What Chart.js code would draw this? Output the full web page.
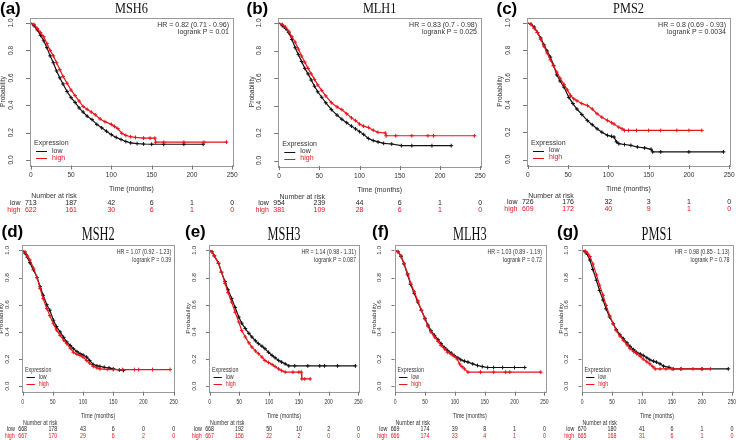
<!DOCTYPE html>
<html><head><meta charset="utf-8">
<script src="https://cdn.jsdelivr.net/npm/chart.js@4/dist/chart.umd.min.js"></script>
<style>
html,body{margin:0;padding:0;background:#fff;}
body{width:738px;height:440px;position:relative;overflow:hidden;}
canvas{position:absolute;display:block;}
</style></head>
<body>
<canvas id="ca" width="245" height="220" style="left:0;top:0"></canvas>
<canvas id="cb" width="245" height="220" style="left:245px;top:0"></canvas>
<canvas id="cc" width="248" height="220" style="left:490px;top:0"></canvas>
<canvas id="cd" width="185" height="220" style="left:0;top:220px"></canvas>
<canvas id="ce" width="180" height="220" style="left:185px;top:220px"></canvas>
<canvas id="cf" width="185" height="220" style="left:365px;top:220px"></canvas>
<canvas id="cg" width="188" height="220" style="left:550px;top:220px"></canvas>
<script>
// ---------- tick labels / shared ----------
const xTickValues = [0, 50, 100, 150, 200, 250];
const yTickValues = [0, 0.2, 0.4, 0.6, 0.8, 1.0];
const yTickLabels = ['0.0', '0.2', '0.4', '0.6', '0.8', '1.0'];
const riskTimes = [0, 50, 100, 150, 200, 250];
const groupNames = ['low', 'high'];

// ---------- MSH6 ----------
const msh6LowTime  = [0,4,8,12,16,20,24,28,32,36,40,45,50,55,60,65,70,76,82,88,94,100,106,112,118,124,132,140,150,165,190,214];
const msh6LowSurv  = [1.0,0.98,0.95,0.91,0.87,0.82,0.76,0.71,0.65,0.60,0.555,0.50,0.455,0.42,0.38,0.35,0.32,0.295,0.26,0.235,0.21,0.185,0.165,0.15,0.135,0.125,0.12,0.117,0.115,0.115,0.115,0.115];
const msh6HighTime = [0,4,8,12,16,20,24,28,32,36,40,45,50,55,60,65,70,75,80,86,92,100,104,108,113,118,124,130,140,148,154,155,165,190,215,243];
const msh6HighSurv = [1.0,0.99,0.96,0.93,0.90,0.85,0.80,0.76,0.71,0.66,0.61,0.56,0.51,0.47,0.43,0.39,0.37,0.35,0.33,0.30,0.28,0.26,0.245,0.23,0.195,0.18,0.17,0.165,0.16,0.16,0.16,0.13,0.13,0.13,0.13,0.13];
const msh6RiskLow  = [713,187,42,6,1,0];
const msh6RiskHigh = [622,161,30,6,1,0];

// ---------- MLH1 ----------
const mlh1LowTime  = [0,4,8,12,16,20,24,28,32,36,40,44,48,53,58,65,72,78,84,90,95,100,105,111,117,123,130,140,152,165,190,214];
const mlh1LowSurv  = [1.0,0.98,0.96,0.93,0.88,0.82,0.77,0.72,0.67,0.63,0.585,0.54,0.50,0.46,0.42,0.37,0.33,0.30,0.275,0.25,0.23,0.21,0.19,0.16,0.145,0.135,0.125,0.12,0.108,0.108,0.108,0.108];
const mlh1HighTime = [0,4,8,12,16,20,24,28,32,36,40,44,48,53,58,65,72,78,84,90,95,100,105,111,117,123,132,133,145,165,185,192,243];
const mlh1HighSurv = [1.0,0.99,0.97,0.94,0.90,0.86,0.81,0.76,0.715,0.67,0.63,0.59,0.55,0.51,0.47,0.42,0.39,0.37,0.34,0.31,0.29,0.265,0.25,0.24,0.22,0.205,0.2,0.18,0.18,0.18,0.18,0.18,0.18];
const mlh1RiskLow  = [954,239,44,6,1,0];
const mlh1RiskHigh = [381,109,28,6,1,0];

// ---------- PMS2 ----------
const pms2LowTime  = [0,4,8,12,16,20,24,28,32,36,40,45,51,56,61,67,74,80,86,92,99,104,107,110,113,120,128,136,145,153,155,165,200,243];
const pms2LowSurv  = [1.0,0.99,0.97,0.93,0.89,0.84,0.795,0.75,0.69,0.62,0.575,0.53,0.455,0.41,0.37,0.33,0.285,0.255,0.225,0.20,0.177,0.17,0.165,0.13,0.116,0.11,0.104,0.092,0.085,0.075,0.056,0.056,0.056,0.056];
const pms2HighTime = [0,4,8,12,16,20,24,28,32,36,40,45,49,53,57,61,67,74,80,86,92,99,104,107,113,117,120,125,135,150,165,185,200,216];
const pms2HighSurv = [1.0,0.99,0.96,0.93,0.88,0.83,0.78,0.73,0.685,0.64,0.595,0.55,0.51,0.47,0.445,0.43,0.41,0.395,0.37,0.335,0.31,0.286,0.27,0.26,0.237,0.225,0.213,0.213,0.213,0.213,0.213,0.213,0.213,0.213];
const pms2RiskLow  = [726,176,32,3,1,0];
const pms2RiskHigh = [609,172,40,9,1,0];

// ---------- MSH2 ----------
const msh2LowTime  = [0,4,8,12,18,24,29,34,40,45,51,56,62,68,73,79,84,90,95,100,106,111,117,123,128,135,143,150,160,167];
const msh2LowSurv  = [1.0,0.98,0.95,0.91,0.857,0.80,0.733,0.67,0.60,0.56,0.486,0.44,0.40,0.36,0.326,0.30,0.276,0.255,0.24,0.23,0.215,0.19,0.16,0.15,0.146,0.14,0.135,0.128,0.12,0.116];
const msh2HighTime = [0,4,8,12,18,24,29,34,40,45,51,56,62,68,73,79,84,90,95,100,106,111,117,123,128,140,150,165,185,192,215,244];
const msh2HighSurv = [1.0,0.99,0.96,0.93,0.87,0.80,0.72,0.645,0.573,0.52,0.46,0.415,0.375,0.34,0.314,0.28,0.25,0.235,0.227,0.215,0.19,0.17,0.146,0.135,0.128,0.125,0.123,0.123,0.123,0.123,0.123,0.123];
const msh2RiskLow  = [668,178,43,6,0,0];
const msh2RiskHigh = [667,170,29,6,2,0];

// ---------- MSH3 ----------
const msh3LowTime  = [0,4,8,15,20,26,31,37,43,49,54,60,66,71,77,82,88,93,99,105,110,116,121,127,133,143,165,185,193,215,245];
const msh3LowSurv  = [1.0,0.99,0.96,0.906,0.84,0.77,0.71,0.647,0.58,0.51,0.465,0.425,0.39,0.363,0.335,0.314,0.295,0.277,0.25,0.227,0.21,0.19,0.178,0.165,0.15,0.15,0.15,0.15,0.15,0.15,0.15];
const msh3HighTime = [0,4,8,15,20,26,31,37,43,49,54,60,66,71,77,82,88,93,99,105,110,116,121,127,140,150,154,155,160,169];
const msh3HighSurv = [1.0,0.99,0.96,0.906,0.84,0.758,0.69,0.62,0.545,0.474,0.41,0.363,0.32,0.289,0.26,0.24,0.215,0.19,0.175,0.16,0.145,0.128,0.115,0.104,0.104,0.104,0.104,0.054,0.054,0.054];
const msh3RiskLow  = [668,192,50,10,2,0];
const msh3RiskHigh = [667,156,22,2,0,0];

// ---------- MLH3 ----------
const mlh3LowTime  = [0,5,10,15,21,26,32,38,44,50,55,60,66,72,77,83,88,94,99,105,110,116,122,130,138,146,155,165,180,200,217];
const mlh3LowSurv  = [1.0,0.99,0.955,0.90,0.82,0.75,0.684,0.62,0.56,0.50,0.45,0.41,0.375,0.343,0.314,0.285,0.264,0.245,0.227,0.21,0.195,0.185,0.178,0.165,0.153,0.145,0.138,0.138,0.138,0.138,0.138];
const mlh3HighTime = [0,5,10,15,21,26,32,38,44,50,55,60,66,72,77,83,88,94,99,104,108,112,116,122,143,165,185,192,244];
const mlh3HighSurv = [1.0,0.99,0.96,0.905,0.83,0.76,0.696,0.63,0.56,0.495,0.442,0.40,0.363,0.33,0.30,0.275,0.25,0.235,0.22,0.20,0.165,0.145,0.128,0.104,0.104,0.104,0.104,0.104,0.104];
const mlh3RiskLow  = [669,174,39,8,1,0];
const mlh3RiskHigh = [666,174,33,4,1,0];

// ---------- PMS1 ----------
const pms1LowTime  = [0,5,9,13,18,24,29,35,40,46,52,57,63,69,75,80,86,91,97,102,108,113,119,124,130,136,145,152,165,200,244];
const pms1LowSurv  = [1.0,0.99,0.97,0.93,0.86,0.78,0.705,0.635,0.57,0.51,0.46,0.417,0.38,0.35,0.32,0.294,0.27,0.25,0.238,0.227,0.21,0.195,0.185,0.178,0.165,0.148,0.14,0.128,0.128,0.128,0.128];
const pms1HighTime = [0,5,9,13,18,24,29,35,40,46,52,57,63,69,75,80,86,91,97,102,108,113,118,122,130,140,150,165,185,200,214];
const pms1HighSurv = [1.0,0.995,0.98,0.955,0.90,0.82,0.745,0.67,0.595,0.52,0.46,0.41,0.37,0.338,0.305,0.277,0.255,0.24,0.22,0.20,0.18,0.165,0.145,0.128,0.128,0.128,0.128,0.128,0.128,0.128,0.128];
const pms1RiskLow  = [670,180,41,6,1,0];
const pms1RiskHigh = [665,168,31,6,1,0];

// ---------- panel texts ----------
const panelLetters = ['(a)','(b)','(c)','(d)','(e)','(f)','(g)'];
const geneNames = ['MSH6','MLH1','PMS2','MSH2','MSH3','MLH3','PMS1'];
const hrTexts = ['HR = 0.82 (0.71 - 0.96)','HR = 0.83 (0.7 - 0.98)','HR = 0.8 (0.69 - 0.93)',
  'HR = 1.07 (0.92 - 1.23)','HR = 1.14 (0.98 - 1.31)','HR = 1.03 (0.89 - 1.19)','HR = 0.98 (0.85 - 1.13)'];
const pTexts = ['logrank P = 0.01','logrank P = 0.025','logrank P = 0.0034',
  'logrank P = 0.39','logrank P = 0.087','logrank P = 0.72','logrank P = 0.78'];

const seriesData = [
  [msh6LowTime, msh6LowSurv, msh6HighTime, msh6HighSurv, msh6RiskLow, msh6RiskHigh],
  [mlh1LowTime, mlh1LowSurv, mlh1HighTime, mlh1HighSurv, mlh1RiskLow, mlh1RiskHigh],
  [pms2LowTime, pms2LowSurv, pms2HighTime, pms2HighSurv, pms2RiskLow, pms2RiskHigh],
  [msh2LowTime, msh2LowSurv, msh2HighTime, msh2HighSurv, msh2RiskLow, msh2RiskHigh],
  [msh3LowTime, msh3LowSurv, msh3HighTime, msh3HighSurv, msh3RiskLow, msh3RiskHigh],
  [mlh3LowTime, mlh3LowSurv, mlh3HighTime, mlh3HighSurv, mlh3RiskLow, mlh3RiskHigh],
  [pms1LowTime, pms1LowSurv, pms1HighTime, pms1HighSurv, pms1RiskLow, pms1RiskHigh]
];

// ---------- layout (styles only) ----------
const layouts = [
  {id:'ca', pad:{left:30,right:12,top:17.5,bottom:54.5}, sx:1, letterX:0, letterY:14, titleSize:14, titleSx:0.88, titleY:13},
  {id:'cb', pad:{left:33.3,right:9,top:17.5,bottom:54}, sx:1, letterX:1.5, letterY:14, titleSize:14, titleSx:0.88, titleY:13},
  {id:'cc', pad:{left:37,right:8,top:17.5,bottom:55}, sx:1, letterX:6.5, letterY:14, titleSize:14, titleSx:0.88, titleY:13},
  {id:'cd', pad:{left:22,right:10.7,top:25,bottom:48.3}, sx:0.76, letterX:1.5, letterY:17, titleSize:19, titleSx:0.65, titleY:20},
  {id:'ce', pad:{left:24,right:6,top:25,bottom:48.3}, sx:0.76, letterX:0, letterY:17, titleSize:19, titleSx:0.65, titleY:20},
  {id:'cf', pad:{left:29.5,right:5,top:25,bottom:48.3}, sx:0.76, letterX:7, letterY:17, titleSize:19, titleSx:0.65, titleY:20},
  {id:'cg', pad:{left:31.5,right:5.5,top:25,bottom:48.3}, sx:0.76, letterX:7, letterY:17, titleSize:19, titleSx:0.65, titleY:20}
];
const LOW_COLOR = '#111111';
const HIGH_COLOR = '#e8141c';
const SANS = '"Liberation Sans", Arial, sans-serif';

function toXY(t, s) { return t.map((x, i) => ({ x: x, y: s[i] })); }

function makePanelPlugin(i) {
  const L = layouts[i];
  const D = seriesData[i];
  return {
    id: 'panel' + i,
    afterDraw(chart) {
      const ctx = chart.ctx, a = chart.chartArea;
      const xs = chart.scales.x, ys = chart.scales.y;
      const sx = L.sx;
      function txt(str, x, y, font, color, align, rot, scx) {
        ctx.save();
        ctx.translate(x, y);
        ctx.scale(scx === undefined ? sx : scx, 1);
        if (rot) ctx.rotate(rot);
        ctx.font = font; ctx.fillStyle = color;
        ctx.textAlign = align || 'center'; ctx.textBaseline = 'middle';
        ctx.fillText(str, 0, 0);
        ctx.restore();
      }
      // box
      ctx.save();
      ctx.strokeStyle = '#9a9a9a'; ctx.lineWidth = 1;
      ctx.strokeRect(Math.round(a.left) + 0.5, Math.round(a.top) + 0.5, Math.round(a.width), Math.round(a.height));
      // ticks
      ctx.strokeStyle = '#777';
      xTickValues.forEach(v => {
        const px = Math.round(xs.getPixelForValue(v)) + 0.5;
        ctx.beginPath(); ctx.moveTo(px, a.bottom); ctx.lineTo(px, a.bottom + 4); ctx.stroke();
      });
      yTickValues.forEach(v => {
        const py = Math.round(ys.getPixelForValue(v)) + 0.5;
        ctx.beginPath(); ctx.moveTo(a.left, py); ctx.lineTo(a.left - 4 * sx, py); ctx.stroke();
      });
      ctx.restore();
      const small = '6.6px ' + SANS, med = '7px ' + SANS;
      xTickValues.forEach(v => txt(String(v), xs.getPixelForValue(v), a.bottom + 10, small, '#333'));
      yTickValues.forEach((v, k) => txt(yTickLabels[k], a.left - 19 * sx, ys.getPixelForValue(v), small, '#333', 'center', -Math.PI / 2));
      txt('Probability', a.left - 26.5 * sx, (a.top + a.bottom) / 2, small, '#333', 'center', -Math.PI / 2);
      txt('Time (months)', (a.left + a.right) / 2, a.bottom + 24, med, '#333');
      // HR
      txt(hrTexts[i], a.right - 4 * sx, a.top + 7.5, med, '#333', 'right');
      txt(pTexts[i], a.right - 4 * sx, a.top + 14.8, med, '#333', 'right');
      // legend
      const lx = a.left + 4 * sx;
      txt('Expression', lx, a.bottom - 22, med, '#333', 'left');
      ctx.save(); ctx.lineWidth = 1;
      [LOW_COLOR, HIGH_COLOR].forEach((c, k) => {
        const yy = Math.round(a.bottom - 14.5 + k * 7) + 0.5;
        ctx.strokeStyle = c;
        ctx.beginPath(); ctx.moveTo(lx + 2 * sx, yy); ctx.lineTo(lx + 13 * sx, yy); ctx.stroke();
      });
      ctx.restore();
      txt(groupNames[0], lx + 18 * sx, a.bottom - 14.5, med, '#333', 'left');
      txt(groupNames[1], lx + 18 * sx, a.bottom - 7.5, med, HIGH_COLOR, 'left');
      // number at risk
      txt('Number at risk', a.left + 24 * sx, a.bottom + 31, med, '#333');
      txt(groupNames[0], a.left - 9.5 * sx, a.bottom + 37.3, med, '#222', 'right');
      txt(groupNames[1], a.left - 9.5 * sx, a.bottom + 44.2, med, HIGH_COLOR, 'right');
      riskTimes.forEach((t, k) => {
        txt(String(D[4][k]), xs.getPixelForValue(t), a.bottom + 37.3, med, '#222');
        txt(String(D[5][k]), xs.getPixelForValue(t), a.bottom + 44.2, med, HIGH_COLOR);
      });
      // title
      ctx.save();
      ctx.translate((a.left + a.right) / 2, L.titleY);
      ctx.scale(L.titleSx, 1);
      ctx.font = L.titleSize + 'px "Liberation Serif", "Times New Roman", serif';
      ctx.fillStyle = '#111'; ctx.textAlign = 'center'; ctx.textBaseline = 'alphabetic';
      ctx.fillText(geneNames[i], 0, 0);
      ctx.restore();
      // panel letter
      ctx.save();
      ctx.font = 'bold 17px ' + SANS; ctx.fillStyle = '#000';
      ctx.textAlign = 'left'; ctx.textBaseline = 'alphabetic';
      ctx.fillText(panelLetters[i], L.letterX, L.letterY);
      ctx.restore();
    }
  };
}

function makeDataset(label, t, s, color) {
  return {
    label: label,
    data: toXY(t, s),
    borderColor: color,
    backgroundColor: color,
    borderWidth: 1.2,
    tension: 0,
    fill: false,
    pointStyle: 'cross',
    pointRadius: (c) => (c.dataIndex === 0 ? 0 : 1.9),
    pointBorderColor: color,
    pointBorderWidth: 1,
    pointHoverRadius: 0
  };
}

layouts.forEach((L, i) => {
  const D = seriesData[i];
  new Chart(document.getElementById(L.id), {
    type: 'line',
    data: {
      datasets: [
        makeDataset(groupNames[1], D[2], D[3], HIGH_COLOR),
        makeDataset(groupNames[0], D[0], D[1], LOW_COLOR)
      ]
    },
    options: {
      responsive: false,
      animation: false,
      events: [],
      layout: { padding: L.pad },
      scales: {
        x: { type: 'linear', min: -1, max: 251, display: false },
        y: { type: 'linear', min: -0.04, max: 1.04, display: false }
      },
      plugins: { legend: { display: false }, tooltip: { enabled: false }, title: { display: false } }
    },
    plugins: [makePanelPlugin(i)]
  });
});
</script>
</body></html>
